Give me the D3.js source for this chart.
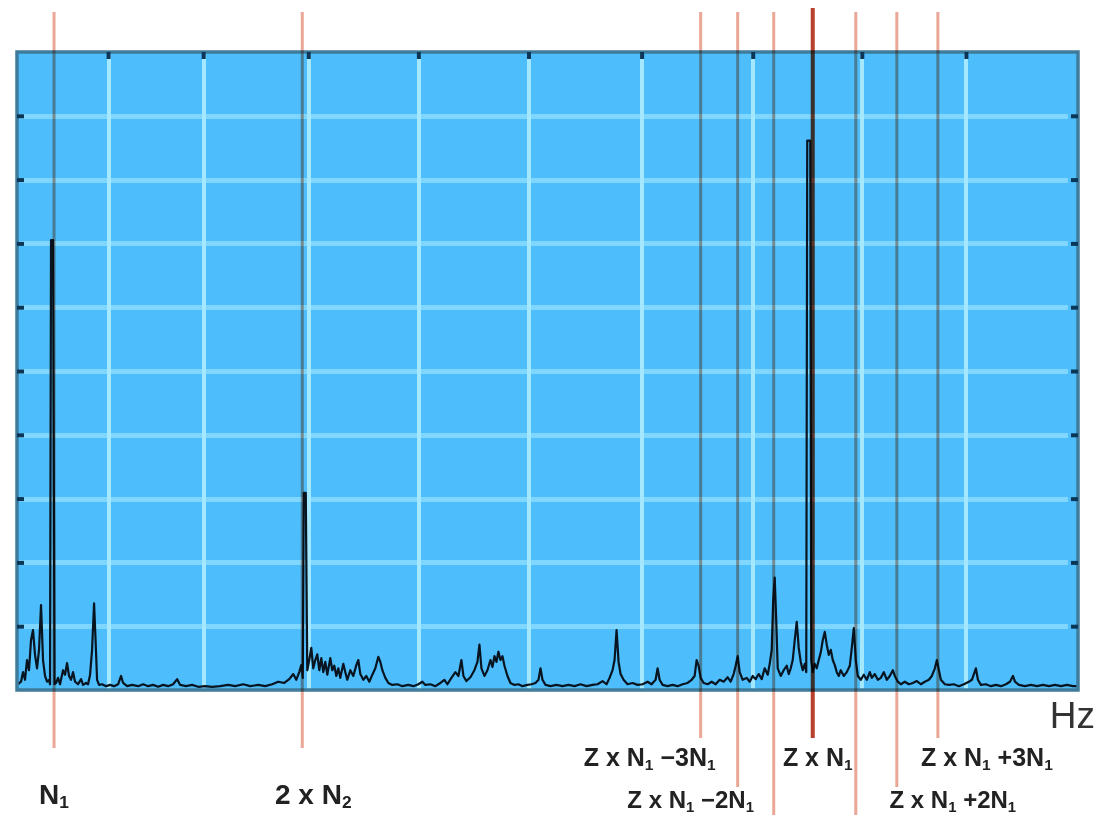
<!DOCTYPE html>
<html>
<head>
<meta charset="utf-8">
<script src="https://cdnjs.cloudflare.com/ajax/libs/d3/7.8.5/d3.min.js"></script>
<style>
  body { margin: 0; background: #fff; }
  svg { display: block; font-family: "Liberation Sans", Arial, sans-serif; }
  .grid line { shape-rendering: crispEdges; }
  .marker { mix-blend-mode: multiply; }
</style>
</head>
<body>
<svg id="spectrum" width="1097" height="815"></svg>
<script>
// frequency axis in Hz (0..1060), amplitude in % of full scale
const freqGrid = [91, 186, 291, 401, 511, 624, 735, 844, 948];
const ampGrid = [10, 20, 30, 40, 50, 60, 70, 80, 90];

// order-tracking marker frequencies and their labels ("_" = subscript digit)
const markerFreqs = [37, 285, 683, 720, 756, 795, 838, 879, 920];
const markerLabels = ['N_1', '2 x N_2', 'Z x N_1 \u22123N_1', 'Z x N_1 \u22122N_1', null,
                      'Z x N_1', null, 'Z x N_1 +2N_1', 'Z x N_1 +3N_1'];
const mainMarker = 'Z x N_1';

// measured spectrum [Hz, %]
const spectrum = [
  [1,0.9],[4,1.3],[6,2.8],[8,1.6],[10,4.7],[12,3.1],[14,7.8],[16,9.4],[18,5.5],[20,3.4],
  [22,6.3],[24,13.3],[26,4.7],[28,2.2],[30,1.3],[32,1.6],[33,0.9],[34,70.5],[36,70.5],[37.5,0.9],
  [39,1.1],[41,1.9],[43,0.9],[46,3.1],[48,2.4],[50,4.2],[52,2.2],[54,1.6],[56,2.8],[58,1.3],
  [61,0.9],[64,1.7],[66,0.8],[69,1.1],[71,0.9],[73,2.4],[75,6.3],[77,13.6],[78.5,7.8],[80,1.6],
  [82,0.8],[85,0.9],[89,0.6],[93,0.8],[97,0.6],[101,0.9],[104,2.2],[106,1.1],[110,0.6],[115,0.8],
  [121,0.6],[126,0.9],[131,0.6],[136,0.8],[141,0.5],[146,0.8],[151,0.6],[156,0.9],[160,1.7],[163,0.8],
  [169,0.6],[175,0.8],[181,0.5],[188,0.6],[195,0.5],[203,0.6],[211,0.8],[218,0.6],[226,0.9],[233,0.6],
  [241,0.8],[248,0.6],[255,0.9],[261,1.3],[267,1.1],[272,1.7],[276,2.5],[279,1.6],[282,2.8],[284,3.9],
  [285.5,1.9],[286.5,30.9],[288.5,30.9],[290,3.1],[292,4.7],[294,6.6],[296,3.4],[298,4.7],[300,5.6],[302,3.1],
  [304,5.0],[306,2.8],[308,4.4],[310,2.4],[313,5.0],[315,3.1],[317,3.8],[319,2.2],[321,3.4],[323,1.9],
  [326,4.1],[328,2.8],[330,1.6],[333,3.1],[336,2.2],[339,3.9],[341,4.7],[343,2.5],[346,1.6],[349,2.2],
  [352,1.3],[355,2.4],[358,3.4],[361,5.2],[363,4.4],[365,3.1],[368,1.9],[371,1.1],[375,0.8],[380,0.9],
  [385,0.6],[391,0.8],[396,0.6],[401,0.9],[405,1.3],[408,0.8],[413,0.9],[418,0.6],[423,1.1],[427,1.6],
  [430,0.9],[434,1.9],[438,2.8],[441,2.2],[444,4.7],[446,2.2],[449,1.4],[453,2.0],[457,3.1],[460,4.4],
  [462,7.1],[464,3.4],[467,2.2],[470,3.1],[473,4.7],[475,3.6],[477,5.3],[479,4.4],[481,6.0],[483,4.7],
  [485,5.3],[487,3.8],[490,2.2],[493,1.1],[497,0.8],[501,0.9],[505,0.6],[510,0.8],[514,0.9],[518,1.1],
  [521,1.6],[523,3.4],[525,1.6],[528,0.8],[533,0.6],[539,0.8],[545,0.6],[551,0.8],[557,0.6],[563,0.9],
  [569,0.6],[575,0.8],[580,0.9],[585,1.4],[589,0.9],[592,1.9],[595,3.1],[597,4.7],[599,9.4],[601,4.4],
  [603,2.5],[606,1.6],[610,0.9],[615,1.1],[620,0.8],[625,0.9],[630,1.3],[634,0.9],[638,1.6],[640,3.4],
  [642,1.6],[645,0.8],[650,0.6],[655,0.8],[660,0.6],[665,0.9],[670,1.1],[674,1.6],[677,2.2],[679,4.7],
  [681,3.8],[683,1.9],[686,1.1],[690,0.9],[694,1.3],[698,0.9],[702,1.6],[706,1.3],[710,2.0],[713,1.3],
  [716,2.5],[718,3.8],[720,5.3],[722,2.8],[725,1.6],[729,1.9],[732,1.3],[735,2.2],[738,1.7],[741,2.5],
  [744,1.7],[747,3.4],[750,2.4],[752,4.1],[754,6.3],[755.5,14.1],[757,17.6],[758.5,11.0],[760,3.4],[763,2.2],
  [766,3.1],[769,3.8],[771,2.5],[773,3.4],[775,4.7],[777,7.8],[779,10.7],[781,6.6],[783,4.4],[785,3.1],
  [787,4.1],[788.5,2.8],[789.5,86.1],[792.5,86.1],[793.5,4.7],[795,2.8],[797,4.1],[799,3.4],[801,4.7],[803,5.9],
  [805,7.8],[807,9.1],[809,7.1],[811,5.5],[813,6.3],[815,4.7],[817,3.9],[819,2.8],[821,2.2],[823,3.1],
  [826,2.2],[829,2.8],[832,3.8],[834,6.6],[836,9.7],[838,4.7],[840,2.2],[843,1.6],[846,2.4],[849,1.6],
  [852,2.8],[854,1.9],[857,2.5],[860,1.6],[863,1.9],[866,2.8],[869,1.6],[872,2.2],[875,3.1],[877,2.2],
  [880,1.3],[883,0.9],[887,1.3],[891,0.9],[895,1.1],[899,1.4],[903,0.9],[907,1.3],[911,1.6],[914,2.2],
  [917,3.4],[919,4.7],[921,3.1],[923,1.6],[927,0.9],[931,0.8],[936,0.9],[941,0.6],[946,0.9],[951,1.3],
  [954,1.6],[956,2.5],[958,3.4],[960,1.6],[963,0.8],[968,0.9],[973,0.6],[978,0.8],[983,0.6],[988,0.9],
  [992,1.3],[995,2.2],[997,1.3],[1001,0.8],[1007,0.6],[1013,0.8],[1019,0.6],[1025,0.8],[1031,0.6],[1037,0.8],
  [1043,0.6],[1049,0.8],[1055,0.6],[1060,0.6]
];

// label placement per marker: horizontal shift of label centre and row
const labelDx  = [0, 11, -51, -47, 0, 5, 0, 56, 49];
const labelRow = [1, 1, 0, 2, -1, 0, -1, 2, 0];
const rowBaseline = [766, 804, 808];
const rowLineEnd  = [738, 748, 787];
const rowFont     = [25, 28, 24];

var svg = d3.select("svg#spectrum"),
    margin = {top: 52, right: 19, bottom: 125, left: 17},
    width = +svg.attr("width") - margin.left - margin.right,
    height = +svg.attr("height") - margin.top - margin.bottom;

var x = d3.scaleLinear().domain([0, 1060]).range([0, width]);
var y = d3.scaleLinear().domain([0, 100]).range([height, 0]);

var g = svg.append("g").attr("transform", "translate(" + margin.left + "," + margin.top + ")");

svg.append("defs").append("clipPath").attr("id", "plotclip")
  .append("rect").attr("width", width).attr("height", height);

g.append("rect")
  .attr("width", width).attr("height", height)
  .attr("fill", "#4dbdfb");

// horizontal grid
var gy = g.append("g").attr("class", "grid")
  .call(d3.axisLeft(y).tickValues(ampGrid).tickSize(-width + 10).tickFormat(""));
gy.select(".domain").remove();
gy.selectAll("line").attr("stroke", "#7fd6fe").attr("stroke-width", 5);

// vertical grid
var gx = g.append("g").attr("class", "grid")
  .attr("transform", "translate(0," + height + ")")
  .call(d3.axisBottom(x).tickValues(freqGrid).tickSize(-height).tickFormat(""));
gx.select(".domain").remove();
gx.selectAll("line").attr("stroke", "#a4e8ff").attr("stroke-width", 4);

// spectrum trace
var line = d3.line()
  .x(function(d) { return x(d[0]); })
  .y(function(d) { return y(d[1]); });

g.append("path")
  .datum(spectrum)
  .attr("clip-path", "url(#plotclip)")
  .attr("fill", "none")
  .attr("stroke", "#08141f")
  .attr("stroke-width", 2.2)
  .attr("stroke-linejoin", "round")
  .attr("d", line);

// frame
g.append("rect")
  .attr("width", width).attr("height", height)
  .attr("fill", "none")
  .attr("stroke", "#3f7b9b")
  .attr("stroke-width", 3.5);

// small dark ticks on the frame
function darkTicks(sel) {
  sel.select(".domain").remove();
  sel.selectAll("line").attr("stroke", "#0c3658").attr("stroke-width", 4);
}
g.append("g").call(d3.axisTop(x).tickValues(freqGrid).tickSize(-7).tickFormat("")).call(darkTicks);
g.append("g").call(d3.axisLeft(y).tickValues(ampGrid).tickSize(-7).tickFormat("")).call(darkTicks);
g.append("g").attr("transform", "translate(" + width + ",0)")
  .call(d3.axisRight(y).tickValues(ampGrid).tickSize(-7).tickFormat("")).call(darkTicks);

// marker lines
var markers = svg.append("g");
markerFreqs.forEach(function(f, i) {
  var mx = margin.left + x(f);
  var isMain = markerLabels[i] === mainMarker;
  var row = labelRow[i];
  markers.append("line")
    .attr("class", "marker")
    .attr("x1", mx).attr("x2", mx)
    .attr("y1", isMain ? 8 : 12)
    .attr("y2", row < 0 ? 815 : rowLineEnd[row])
    .attr("stroke", isMain ? "#b8402c" : "#eba796")
    .attr("stroke-width", isMain ? 4 : 3);

  if (markerLabels[i]) {
    var fs = rowFont[row];
    var t = svg.append("text")
      .attr("x", mx + labelDx[i])
      .attr("y", rowBaseline[row])
      .attr("text-anchor", "middle")
      .attr("font-size", fs)
      .attr("font-weight", "bold")
      .attr("fill", "#222");
    markerLabels[i].split(/_(\d)/).forEach(function(part, k) {
      if (!part) return;
      var ts = t.append("tspan").text(part);
      if (k % 2 === 1) {
        ts.attr("font-size", fs * 0.62).attr("dy", 4);
      } else if (k > 0) {
        ts.attr("dy", -4);
      }
    });
  }
});

svg.append("text")
  .attr("x", 1095)
  .attr("y", 728)
  .attr("text-anchor", "end")
  .attr("font-size", 37)
  .attr("fill", "#333")
  .text("Hz");
</script>
</body>
</html>
